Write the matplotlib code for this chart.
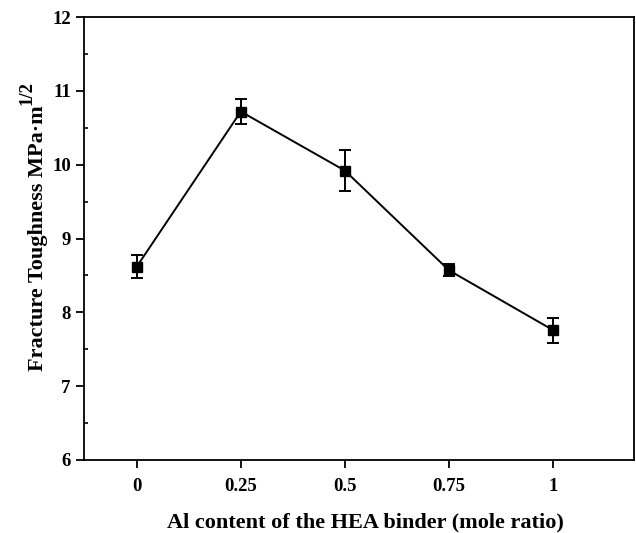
import numpy as np
import matplotlib
matplotlib.use('Agg')
import matplotlib.pyplot as plt
from matplotlib.ticker import MultipleLocator

plt.rcParams['font.family'] = 'Liberation Serif'
plt.rcParams['font.weight'] = 'bold'

# Al content vs fracture toughness
al_content = [0, 0.25, 0.5, 0.75, 1]
toughness = [8.62, 10.72, 9.92, 8.57, 7.76]
toughness_err = [0.16, 0.165, 0.28, 0.08, 0.17]
xtick_labels = ['0', '0.25', '0.5', '0.75', '1']

fig = plt.figure(figsize=(6.36, 5.33), dpi=100)
ax = fig.add_axes([0.132, 0.137, 0.865, 0.831])

ax.errorbar(al_content, toughness, yerr=toughness_err, color='black',
            marker='s', markersize=7, linewidth=1.4, elinewidth=1.4,
            capsize=4.5, capthick=1.4)

ax.set_xlim(-0.127, 1.195)
ax.set_ylim(6, 12)
ax.set_xticks(al_content)
ax.set_xticklabels(xtick_labels)
ax.yaxis.set_major_locator(MultipleLocator(1))
ax.yaxis.set_minor_locator(MultipleLocator(0.5))

ax.tick_params(axis='both', which='major', direction='out', length=6,
               width=1.3, labelsize=13.5, pad=3.5)
ax.tick_params(axis='y', which='minor', direction='in', length=3, width=1.2)
ax.tick_params(axis='x', which='major', pad=7)
for s in ax.spines.values():
    s.set_linewidth(1.3)

ax.set_xlabel('Al content of the HEA binder (mole ratio)', fontsize=16,
              fontweight='bold')
ax.set_ylabel('Fracture Toughness MPa\u00b7m', fontsize=16, fontweight='bold')
ax.xaxis.set_label_coords(0.512, -0.118)
ax.yaxis.set_label_coords(-0.066, 0.50)

# big superscript 1/2 placed after the ylabel
fig.canvas.draw()
bb = ax.yaxis.label.get_window_extent()
x0, y1 = fig.transFigure.inverted().transform((bb.x0, bb.y1))
fig.text(x0 - 0.014, y1 + 0.002, '1/2', rotation=90, fontsize=13.5,
         fontweight='bold', ha='left', va='bottom')

fig.savefig('out.png', dpi=100)
